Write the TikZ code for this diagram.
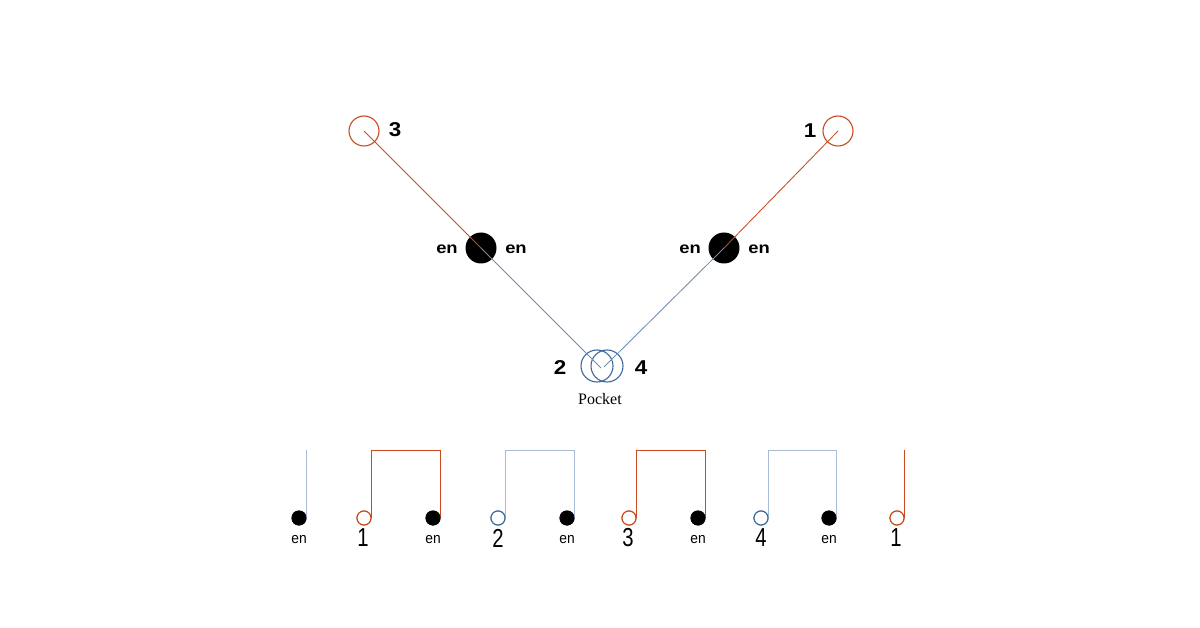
\documentclass[tikz,border=0pt]{standalone}
\usepackage{fontspec}
\setmainfont{Liberation Serif}
\setsansfont{Liberation Sans}
\definecolor{org}{HTML}{C84B1E}
\definecolor{bluc}{HTML}{3D6A9A}
\definecolor{blul}{HTML}{6F8DAE}
\definecolor{blup}{HTML}{A9BCD6}
\begin{document}
\begin{tikzpicture}[x=1pt,y=-1pt,
  bigring/.style={circle,draw=org,line width=1.1pt,minimum size=30pt,inner sep=0pt},
  bigdot/.style={circle,fill=black,minimum size=31pt,inner sep=0pt},
  pring/.style={circle,draw=bluc,line width=1.1pt,minimum size=32pt,inner sep=0pt},
  smring/.style={circle,draw=#1,line width=1.1pt,fill=white,minimum size=14pt,inner sep=0pt},
  smdot/.style={circle,fill=black,minimum size=15pt,inner sep=0pt},
  toplbl/.style={font=\sffamily\bfseries\fontsize{20}{21}\selectfont,inner sep=0pt},
  enlbl/.style={font=\sffamily\bfseries\fontsize{16}{17}\selectfont,inner sep=0pt},
  benlbl/.style={font=\sffamily\fontsize{15}{16}\selectfont,inner sep=0pt},
  bnum/.style={font=\sffamily\fontsize{26}{27}\selectfont,inner sep=0pt},
  wire/.style={line width=0.85pt}]
\fill[white] (0,0) rectangle (1200,628);
\useasboundingbox (0,0) rectangle (1200,628);
% top nodes
\node[bigring] (r3) at (364,131) {};
\node[bigring] (r1) at (838,131) {};
\node[bigdot] (dl) at (481,248) {};
\node[bigdot] (dr) at (724,248) {};
\node[pring] (pl) at (597,366) {};
\node[pring] (pr) at (607,366) {};
\coordinate (pel) at (601,368);
\coordinate (per) at (604,367);
\draw[wire,org] (r3.center) -- (dl.center);
\draw[wire,org] (r1.center) -- (dr.center);
\draw[wire,blul] (dl.center) -- (pel);
\draw[wire,blul] (dr.center) -- (per);
\node[toplbl] (l3) at (395,130) {\scalebox{1.12}[1]{3}};
\node[toplbl] (l1) at (810,131) {\scalebox{1.12}[1]{1}};
\node[enlbl] (e1) at (447,249) {\scalebox{1.15}[1]{en}};
\node[enlbl] (e2) at (516,249) {\scalebox{1.15}[1]{en}};
\node[enlbl] (e3) at (690,249) {\scalebox{1.15}[1]{en}};
\node[enlbl] (e4) at (759,249) {\scalebox{1.15}[1]{en}};
\node[toplbl] (l2) at (560,368) {\scalebox{1.12}[1]{2}};
\node[toplbl] (l4) at (641,368) {\scalebox{1.12}[1]{4}};
\node[font=\fontsize{16}{17}\selectfont,inner sep=0pt] (pk) at (600,399) {Pocket};
% bottom row
\foreach \n/\x/\c in {b1/364/org,b2/498/bluc,b3/629/org,b4/761/bluc,b5/897/org}{
  \node[smring=\c] (\n) at (\x,518) {};
}
\foreach \n/\x in {k0/299,k1/433,k2/567,k3/698,k4/829}{
  \node[smdot] (\n) at (\x,518) {};
}
\draw[wire,blup] (k0.east) -- ++(0,-68);
\draw[wire,org] (b1.east) -- ++(0,-68) -| (k1.east);
\draw[wire,blup] (b2.east) -- ++(0,-68) -| (k2.east);
\draw[wire,org] (b3.east) -- ++(0,-68) -| (k3.east);
\draw[wire,blup] (b4.east) -- ++(0,-68) -| (k4.east);
\draw[wire,org] (b5.east) -- ++(0,-68);
% redraw nodes on top of wire ends
\foreach \x/\c in {364/org,498/bluc,629/org,761/bluc,897/org}{
  \node[smring=\c] at (\x,518) {};
}
\foreach \x in {299,433,567,698,829}{ \node[smdot] at (\x,518) {}; }
\foreach \n/\x in {t0/299,t1/433,t2/567,t3/698,t4/829}{
  \node[benlbl] (\n) at (\x,540) {\scalebox{0.92}[1]{en}};
}
\foreach \n/\x/\t in {u1/363/1,u2/498/2,u3/628/3,u4/761/4,u5/896/1}{
  \node[bnum] (\n) at (\x,538) {\scalebox{0.78}[1]{\t}};
}
\end{tikzpicture}
\end{document}
